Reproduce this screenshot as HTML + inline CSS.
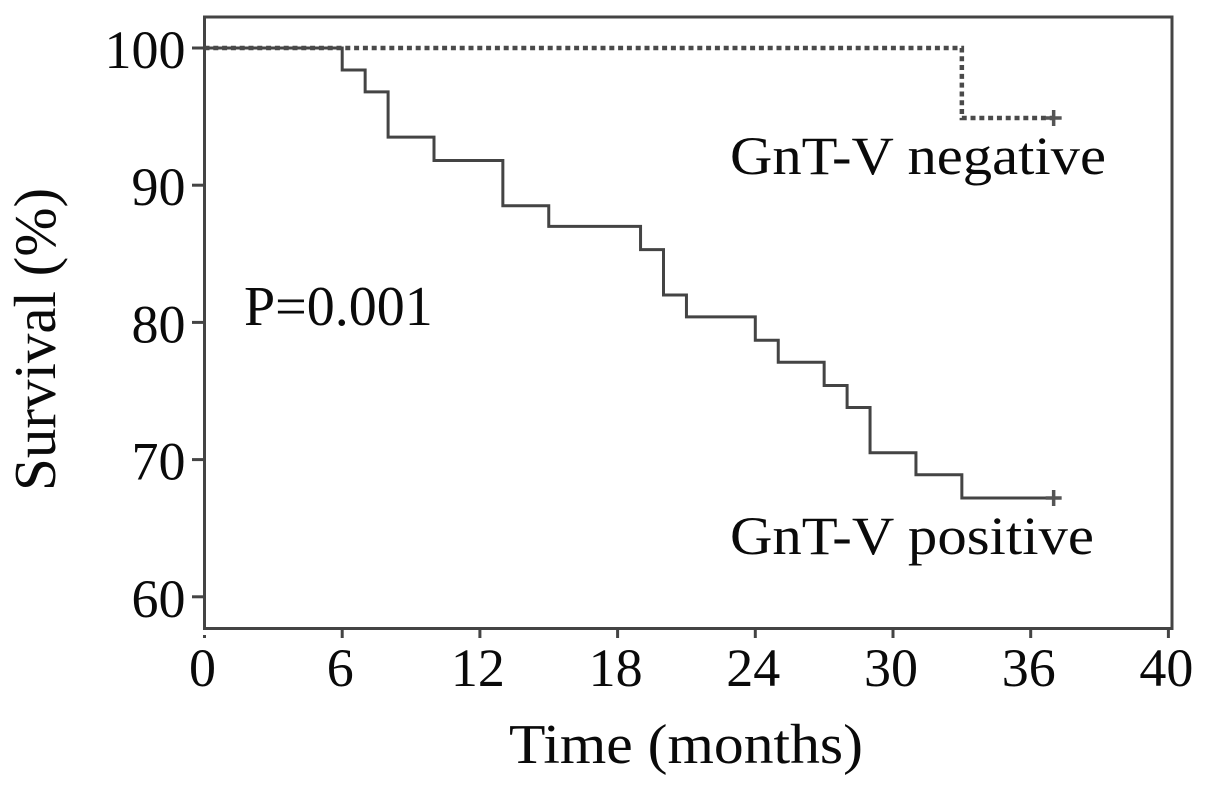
<!DOCTYPE html>
<html lang="en">
<head>
<meta charset="utf-8">
<title>Survival curve</title>
<style>
html,body{margin:0;padding:0;background:#fff;width:1205px;height:789px;overflow:hidden}
svg{display:block}
text{font-family:"Liberation Serif",serif;fill:#0a0a0a}
</style>
</head>
<body>
<svg id="chart" width="1205" height="789" viewBox="0 0 1205 789" xmlns="http://www.w3.org/2000/svg">
  <rect x="204.5" y="17" width="967.5" height="611.5" fill="#fff" stroke="#444" stroke-width="3"/>
  <g id="ticks"></g>
  <g id="series"></g>
  <text transform="translate(55,491) rotate(-90)" font-size="59">Survival (%)</text>
  <text x="509" y="763" font-size="56" textLength="354" lengthAdjust="spacingAndGlyphs">Time (months)</text>
  <text x="244" y="325" font-size="56">P=0.001</text>
  <text x="730" y="174" font-size="54" textLength="376" lengthAdjust="spacingAndGlyphs">GnT-V negative</text>
  <text x="730" y="554" font-size="54" textLength="364" lengthAdjust="spacingAndGlyphs">GnT-V positive</text>
</svg>
<script>
const xTickPositions = [0, 6, 12, 18, 24, 30, 36, 42];
const xTickLabels = ['0', '6', '12', '18', '24', '30', '36', '40'];
const yTickValues = [100, 90, 80, 70, 60];
const positiveTimes = [0, 6, 7, 8, 10, 13, 15, 19, 20, 21, 24, 25, 27, 28, 29, 31, 33, 37];
const positiveSurvival = [100, 98.4, 96.8, 93.5, 91.8, 88.5, 87, 85.3, 82, 80.4, 78.7, 77.1, 75.4, 73.8, 70.5, 68.9, 67.2, 67.2];
const negativeTimes = [0, 33, 37];
const negativeSurvival = [100, 94.9, 94.9];

const NS = 'http://www.w3.org/2000/svg';
const xScale = t => 204.5 + t * 22.95;
const yScale = v => 48 + (100 - v) * 13.72;

const ticks = document.getElementById('ticks');
const series = document.getElementById('series');

function make(tag, attrs, parent) {
  const el = document.createElementNS(NS, tag);
  for (const k in attrs) el.setAttribute(k, attrs[k]);
  parent.appendChild(el);
  return el;
}

xTickPositions.forEach((t, i) => {
  const x = xScale(t);
  const tick = make('line', {x1: x, x2: x, y1: i === 0 ? 635 : 628, y2: 638, stroke: '#444', 'stroke-width': 3}, ticks);
  
  
  const label = make('text', {x: x - 2, y: 686, 'font-size': 54, 'text-anchor': 'middle'}, ticks);
  
  
  label.textContent = xTickLabels[i];
});

yTickValues.forEach(v => {
  const y = yScale(v);
  const tick = make('line', {x1: 192, x2: 204, y1: y, y2: y, stroke: '#444', 'stroke-width': 3}, ticks);
  
  
  const label = make('text', {x: 185.5, y: y + 20, 'font-size': 54, 'text-anchor': 'end'}, ticks);
  
  
  label.textContent = v;
});

function stepPath(times, vals) {
  let d = 'M' + xScale(times[0]) + ' ' + yScale(vals[0]);
  for (let i = 1; i < times.length; i++) {
    d += ' H' + xScale(times[i]) + ' V' + yScale(vals[i]);
  }
  return d;
}

function censor(times, vals, name) {
  const cx = xScale(times[times.length - 1]);
  const cy = yScale(vals[vals.length - 1]);
  const mark = make('path', {
    d: 'M' + (cx - 8) + ' ' + cy + ' H' + (cx + 8) + ' M' + cx + ' ' + (cy - 8) + ' V' + (cy + 8),
    fill: 'none', stroke: '#555', 'stroke-width': 3.5
  }, series);
  
  
}

const posLine = make('path', {d: stepPath(positiveTimes, positiveSurvival), fill: 'none', stroke: '#444', 'stroke-width': 3}, series);



const negLine = make('path', {d: stepPath(negativeTimes, negativeSurvival), fill: 'none', stroke: '#4a4a4a', 'stroke-width': 4.5, 'stroke-dasharray': '5 3.8'}, series);



censor(positiveTimes, positiveSurvival, 'gntv-positive-censor-mark');
censor(negativeTimes, negativeSurvival, 'gntv-negative-censor-mark');
</script>
</body>
</html>
